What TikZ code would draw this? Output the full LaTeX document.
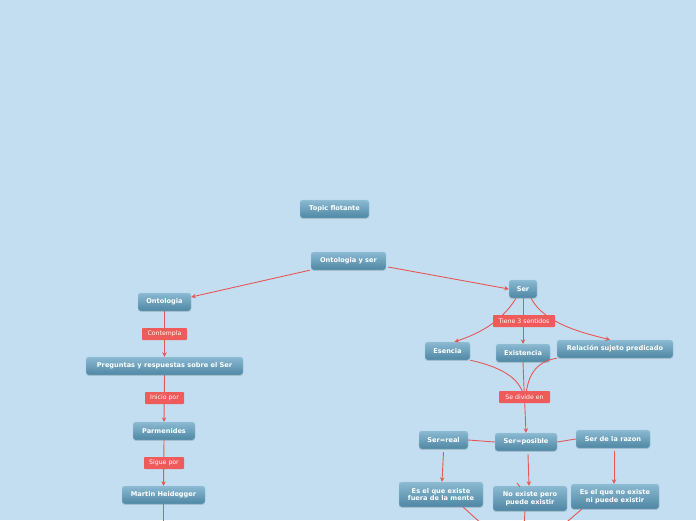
\documentclass[tikz,border=0pt]{standalone}
\usepackage{fontspec}
\setmainfont{DejaVu Sans}
\usetikzlibrary{arrows.meta,shadows}
\definecolor{bg}{HTML}{C4DEF1}
\definecolor{ntop}{HTML}{8BBAD2}
\definecolor{nbot}{HTML}{4E86A3}
\definecolor{nedge}{HTML}{A5CADC}
\definecolor{lred}{HTML}{EF5A5A}
\definecolor{wred}{HTML}{E65757}
\tikzset{
  topic/.style={rectangle, rounded corners=2.5pt, top color=ntop, bottom color=nbot,
    draw=nedge, line width=0.4pt, text=white, font=\fontsize{6.6}{7.6}\selectfont\bfseries,
    inner sep=1pt, align=center, drop shadow={shadow xshift=0pt, shadow yshift=-0.8pt, opacity=0.25}},
  lab/.style={rectangle, rounded corners=0.8pt, fill=lred, text=white,
    font=\fontsize{6.2}{7}\selectfont, inner sep=1pt, minimum height=12pt},
  wire/.style={draw=wred, line width=0.9pt},
  arr/.style={wire, -{Stealth[length=4.5pt,width=4.5pt]}},
}
\begin{document}
\begin{tikzpicture}[x=1pt,y=-1pt]
\useasboundingbox (0,0) rectangle (696,520);
\clip (0,0) rectangle (696,520);
\fill[bg] (0,0) rectangle (696,520);

% nodes
\node[topic, minimum width=69pt, minimum height=18pt] (tf) at (334.5,209) {Topic flotante};
\node[topic, minimum width=75pt, minimum height=18pt] (os) at (348.5,261) {Ontologia y ser};
\node[topic, minimum width=53pt, minimum height=18pt] (ont) at (164.5,302) {Ontologia};
\node[topic, minimum width=157pt, minimum height=18pt] (pr) at (164.5,366) {Preguntas y respuestas sobre el Ser};
\node[topic, minimum width=62pt, minimum height=18pt] (par) at (164,431) {Parmenides};
\node[topic, minimum width=83pt, minimum height=18pt] (mh) at (163.5,495) {Martin Heidegger};
\node[topic, minimum width=28pt, minimum height=18pt] (ser) at (523,289) {Ser};
\node[topic, minimum width=45pt, minimum height=18pt] (es) at (447.5,351) {Esencia};
\node[topic, minimum width=54pt, minimum height=18pt] (ex) at (523,353) {Existencia};
\node[topic, minimum width=116pt, minimum height=18pt] (rel) at (615,349) {Relación sujeto predicado};
\node[topic, minimum width=49pt, minimum height=18pt] (sr) at (443.5,440) {Ser=real};
\node[topic, minimum width=62pt, minimum height=18pt] (sp) at (526,442) {Ser=posible};
\node[topic, minimum width=74pt, minimum height=18pt] (sdr) at (613,439) {Ser de la razon};
\node[topic, minimum width=84pt, minimum height=25pt] (e1) at (441,494.5) {Es el que existe\\fuera de la mente};
\node[topic, minimum width=74pt, minimum height=25pt] (e2) at (530,498.5) {No existe pero\\puede existir};
\node[topic, minimum width=88pt, minimum height=25pt] (e3) at (615,496.5) {Es el que no existe\\ni puede existir};

\coordinate (mhd) at (163.5,540);
\coordinate (low) at (522,560);

% connectors
\draw[arr] (os.south west) ++(-1,0) -- (ont.east |- 0,297);
\draw[arr] (os.east) ++(2,6) -- (ser.west);
\draw[arr] (ont.south) -- (pr.north);
\draw[arr] (pr.south) -- (par.north);
\draw[arr] (par.south) -- (mh.north);
\draw[wire] (mh.south) -- (mhd);

\draw[arr] ([xshift=-7pt]ser.south) .. controls (500,325) and (472,336) .. ([xshift=7pt]es.north);
\draw[arr] (ser.south) -- (ex.north);
\draw[arr] ([xshift=8pt]ser.south) .. controls (545,325) and (588,334) .. ([xshift=-5pt]rel.north);

\draw[wire] (es.south east) .. controls (505,368) and (522,380) .. (524.5,400);
\draw[wire] (ex.south) -- (524.5,400);
\draw[wire] (rel.south west) .. controls (535,362) and (527,376) .. (525.5,400);
\draw[arr] (524.5,398) -- (sp.north);

\draw[wire] (sr.east) -- (sp.west);
\draw[wire] (sp.east) -- (sdr.west);
\draw[arr] ([yshift=-3pt]sr.south) -- ([xshift=1pt]e1.north);
\draw[arr] ([xshift=2pt,yshift=-3pt]sp.south) -- ([xshift=-1pt]e2.north);
\draw[arr] ([xshift=1pt,yshift=-3pt]sdr.south) -- ([xshift=-1pt]e3.north);
\draw[wire] (517,483) -- (520,487);

\draw[wire] ([xshift=-20pt]e1.south east) -- (low);
\draw[wire] ([xshift=-5pt]e2.south) -- (low);
\draw[wire] ([xshift=11pt]e3.south west) -- (low);

% labels
\node[lab, minimum width=45pt] (l1) at (164.5,334) {Contempla};
\node[lab, minimum width=39pt] (l2) at (164.5,398) {Inicio por};
\node[lab, minimum width=40pt] (l3) at (164,463) {Sigue por};
\node[lab, minimum width=62pt] (l4) at (524,321) {Tiene 3 sentidos};
\node[lab, minimum width=51pt] (l5) at (524.5,397) {Se divide en};
\end{tikzpicture}
\end{document}
